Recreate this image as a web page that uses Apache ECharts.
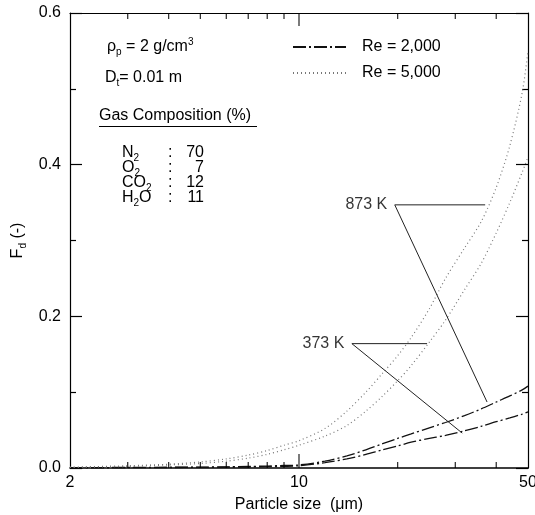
<!DOCTYPE html>
<html>
<head>
<meta charset="utf-8">
<script src="https://cdn.jsdelivr.net/npm/echarts@6/dist/echarts.min.js"></script>
<style>html,body{margin:0;padding:0;background:#fff}#c{width:535px;height:515px}</style>
</head>
<body>
<div id="c"></div>
<script>
// particle size (µm) and deposition fraction Fd (-)
const sizes = [2,3,4,5,6,7,8,9,10,12,14,16,18,20,22,25,28,32,36,40,44,48,50];
const re2000_873 = [0.0005,0.0007,0.001,0.0012,0.0015,0.002,0.0026,0.0033,0.004,0.009,0.016,0.024,0.032,0.039,0.045,0.053,0.060,0.069,0.078,0.087,0.095,0.103,0.108];
const re2000_373 = [0.0003,0.0004,0.0006,0.0008,0.001,0.0013,0.0017,0.0022,0.003,0.007,0.012,0.018,0.024,0.029,0.034,0.039,0.043,0.049,0.055,0.061,0.066,0.071,0.074];
const re5000_873 = [0.001,0.003,0.005,0.008,0.012,0.017,0.023,0.030,0.036,0.052,0.075,0.100,0.125,0.148,0.172,0.210,0.250,0.290,0.325,0.370,0.425,0.495,0.550];
const re5000_373 = [0.0008,0.002,0.004,0.006,0.009,0.013,0.018,0.024,0.030,0.042,0.056,0.075,0.095,0.115,0.135,0.166,0.195,0.235,0.270,0.310,0.350,0.390,0.410];

const xLabelTicks = [2,10,50];
const xMinorTicks = [3,4,5,6,7,8,9,20,30,40];
const xMajorTicks = [10];
const yMin = 0, yMax = 0.6;

// annotation leaders: [end of horizontal leader, label anchor, end of diagonal leader]
const leader873 = [[37.0,0.347],[19.6,0.347],[37.5,0.087]];
const leader373 = [[24.6,0.164],[14.5,0.164],[31.5,0.046]];
const leaderLabels = [[19.6,0.347,'873 K'],[14.5,0.164,'373 K']];

const lg = v => Math.log10(v);
const pairs = ys => sizes.map((s,i)=>[lg(s), ys[i]]);
const FONT = 'Liberation Sans, Arial, sans-serif';

const DASHDOT = [13,3,2,3];
const DOT = [1,3];

const chart = echarts.init(document.getElementById('c'), null, {renderer:'canvas'});

function xAxisDef(pos, labels){
  return {
    type:'value', position:pos, min:lg(2), max:lg(50),
    axisLine:{show:true, onZero:false, lineStyle:{color:'#000', width:pos==='bottom'?1.6:1.2}},
    axisTick:{show:false},
    axisLabel: labels ? {show:true, customValues:xLabelTicks.map(lg), formatter:v=>String(Math.round(Math.pow(10,v))), color:'#000', fontSize:16, fontFamily:FONT, margin:7} : {show:false},
    splitLine:{show:false}
  };
}
function tickSeries(vals, yv, len, up){
  return {name:'tick', type:'scatter', silent:true, clip:false, z:5,
    data:vals.map(v=>[lg(v), yv]),
    symbol:'rect', symbolSize:[1.3, len], symbolOffset:[0, up ? -len/2 : len/2],
    itemStyle:{color:'#000'}};
}

const rich = {
  a:{fontSize:16, fontFamily:FONT, color:'#000', lineHeight:20},
  s:{fontSize:10, fontFamily:FONT, color:'#000', lineHeight:10, verticalAlign:'bottom'}
};
const grich = {
  a:{fontSize:16, fontFamily:FONT, fill:'#000', lineHeight:20},
  s:{fontSize:10, fontFamily:FONT, fill:'#000', lineHeight:10, verticalAlign:'bottom'},
  u:{fontSize:10, fontFamily:FONT, fill:'#000', lineHeight:10, verticalAlign:'top'}
};
function gtext(x, y, text, align){
  const el = {type:'text', top:y, style:{text:text, rich:grich, fontSize:16, fontFamily:FONT, fill:'#000'}};
  if (align === 'right') el.right = 535 - x; else el.left = x;
  return el;
}

const option = {
  animation:false,
  backgroundColor:'#fff',
  grid:{left:70, right:7, top:13, bottom:47, outerBoundsMode:'none', containLabel:false},
  legend:{
    data:['Re = 2,000','Re = 5,000'],
    orient:'vertical', left:287, top:34, itemWidth:53, itemHeight:14, itemGap:10,
    itemStyle:{opacity:0},
    textStyle:{color:'#000', fontSize:16, fontFamily:FONT, padding:[0,0,0,11]},
    selectedMode:false
  },
  xAxis:[
    Object.assign(xAxisDef('bottom', true), {name:'Particle size  (\u03bcm)', nameLocation:'middle', nameGap:29, nameTextStyle:{color:'#000', fontSize:16, fontFamily:FONT}}),
    xAxisDef('top', false)
  ],
  yAxis:[
    {type:'value', position:'left', min:yMin, max:yMax, interval:0.2,
     axisLine:{show:true, lineStyle:{color:'#000', width:1.2}},
     axisTick:{show:true, inside:true, length:12, lineStyle:{color:'#000', width:1.2}},
     minorTick:{show:true, splitNumber:2, length:6, lineStyle:{color:'#000', width:1.2}},
     axisLabel:{color:'#000', fontSize:16, fontFamily:FONT, margin:9, formatter:v=>v.toFixed(1)},
     splitLine:{show:false},
     name:'{a|F}{s|d}{a| (-)}', nameLocation:'middle', nameRotate:90, nameGap:31,
     nameTextStyle:{rich:rich, padding:[0,0,0,0]}
    },
    {type:'value', position:'right', min:yMin, max:yMax, interval:0.2,
     axisLine:{show:true, lineStyle:{color:'#000', width:1.2}},
     axisTick:{show:true, inside:true, length:12, lineStyle:{color:'#000', width:1.2}},
     minorTick:{show:true, splitNumber:2, length:6, lineStyle:{color:'#000', width:1.2}},
     axisLabel:{show:false}, splitLine:{show:false}}
  ],
  series:[
    {name:'Re = 2,000', type:'line', data:pairs(re2000_873), symbol:'none', smooth:0.3, lineStyle:{color:'#111', width:1.3, type:DASHDOT}, itemStyle:{color:'#111'}},
    {name:'Re = 2,000', type:'line', data:pairs(re2000_373), symbol:'none', smooth:0.3, lineStyle:{color:'#111', width:1.3, type:DASHDOT}, itemStyle:{color:'#111'}},
    {name:'Re = 5,000', type:'line', data:pairs(re5000_873), symbol:'none', smooth:0.3, lineStyle:{color:'#777', width:1.2, type:DOT}, itemStyle:{color:'#777'}},
    {name:'Re = 5,000', type:'line', data:pairs(re5000_373), symbol:'none', smooth:0.3, lineStyle:{color:'#777', width:1.2, type:DOT}, itemStyle:{color:'#777'}},
    {name:'leader873', type:'line', data:leader873.map(p=>[lg(p[0]),p[1]]), symbol:'none', lineStyle:{color:'#222', width:1}},
    {name:'leader373', type:'line', data:leader373.map(p=>[lg(p[0]),p[1]]), symbol:'none', lineStyle:{color:'#222', width:1}},
    {name:'labels', type:'scatter', data:leaderLabels.map(p=>[lg(p[0]),p[1],p[2]]), symbolSize:1, itemStyle:{color:'rgba(0,0,0,0)'},
     label:{show:true, position:'left', distance:7, formatter:p=>p.value[2], color:'#000', fontSize:16, fontFamily:FONT}},
    tickSeries(xMinorTicks, yMin, 6, true),
    tickSeries(xMajorTicks, yMin, 14, true),
    tickSeries(xMinorTicks, yMax, 6, false),
    tickSeries(xMajorTicks, yMax, 13, false)
  ],
  graphic:[
    gtext(107, 37, '{a|\u03c1}{s|p}{a| = 2 g/cm}{u|3}'),
    gtext(105, 70, '{a|D}{s|t}{a|= 0.01 m}'),
    gtext(99, 108, '{a|Gas Composition (%)}'),
    {type:'line', shape:{x1:99, y1:126.5, x2:257, y2:126.5}, style:{stroke:'#000', lineWidth:1.2}},
    gtext(122, 145, '{a|N}{s|2}'),
    gtext(122, 160, '{a|O}{s|2}'),
    gtext(122, 175, '{a|CO}{s|2}'),
    gtext(122, 190, '{a|H}{s|2}{a|O}'),
    gtext(168, 145, '{a|:}'),
    gtext(168, 160, '{a|:}'),
    gtext(168, 175, '{a|:}'),
    gtext(168, 190, '{a|:}'),
    gtext(204, 145, '{a|70}', 'right'),
    gtext(204, 160, '{a|7}', 'right'),
    gtext(204, 175, '{a|12}', 'right'),
    gtext(204, 190, '{a|11}', 'right')
  ]
};
chart.setOption(option);
</script>
</body>
</html>
